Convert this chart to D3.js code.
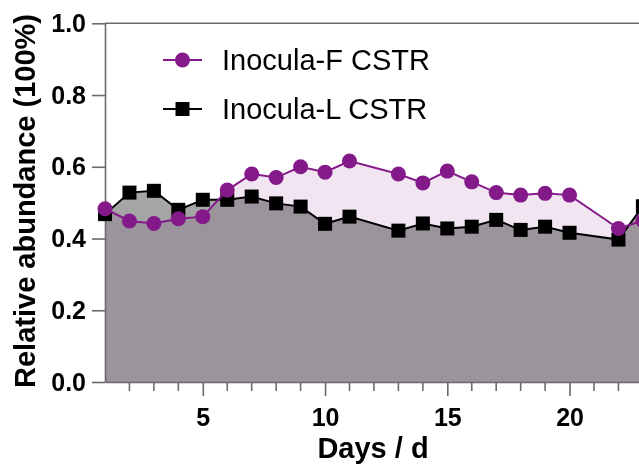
<!DOCTYPE html>
<html lang="en">
<head>
    <meta charset="UTF-8">
    <title>Relative abundance of inocula in CSTR</title>
    <script src="https://d3js.org/d3.v7.min.js"></script>
    <style>
        body { margin: 0; background: #fff; }
        svg { display: block; font-family: "Liberation Sans", Arial, Helvetica, sans-serif; }
    </style>
</head>
<body>
    <svg width="639" height="467" id="chart"></svg>
    <script>
        // Data
        const daysF = [1, 2, 3, 4, 5, 6, 7, 8, 9, 10, 11, 13, 14, 15, 16, 17, 18, 19, 20, 22, 23];
        const valuesF = [0.483, 0.449, 0.442, 0.455, 0.461, 0.535, 0.580, 0.570, 0.600, 0.585, 0.616,
                         0.580, 0.555, 0.588, 0.558, 0.528, 0.521, 0.526, 0.521, 0.428, 0.450];
        const daysL = [1, 2, 3, 4, 5, 6, 7, 8, 9, 10, 11, 13, 14, 15, 16, 17, 18, 19, 20, 22, 23];
        const valuesL = [0.468, 0.528, 0.533, 0.480, 0.508, 0.508, 0.517, 0.498, 0.489, 0.441, 0.461,
                         0.422, 0.442, 0.428, 0.433, 0.452, 0.424, 0.433, 0.416, 0.397, 0.490];
        const seriesNames = ["Inocula-F CSTR", "Inocula-L CSTR"];
        const yTicks = [0, 0.2, 0.4, 0.6, 0.8, 1.0];
        const xTicks = [5, 10, 15, 20];

        const purple = "#84198a";
        const axisGrey = "#6a6a6a";

        const svg = d3.select("#chart");

        const x = d3.scaleLinear().domain([1, 25]).range([105, 691.8]);
        const y = d3.scaleLinear().domain([0, 1]).range([382, 23.3]);

        const F = daysF.map((d, i) => ({ day: d, v: valuesF[i] }));
        const L = daysL.map((d, i) => ({ day: d, v: valuesL[i] }));

        const area = d3.area().x(d => x(d.day)).y0(y(0)).y1(d => y(d.v));
        const line = d3.line().x(d => x(d.day)).y(d => y(d.v));

        // shaded areas (pink under F, grey under L, multiplied where they overlap)
        svg.append("path").datum(F)
            .attr("d", area)
            .attr("fill", "#f1e5f1");
        svg.append("path").datum(L)
            .attr("d", area)
            .attr("fill", "#a5a5a5")
            .style("mix-blend-mode", "multiply");

        // axes
        const yAxis = svg.append("g")
            .attr("transform", `translate(${x(1)},0)`)
            .call(d3.axisLeft(y).tickValues(yTicks).tickFormat(d3.format(".1f"))
                .tickSize(13).tickSizeOuter(0).tickPadding(6));
        yAxis.selectAll("text")
            .attr("font-size", 25).attr("font-weight", "bold")
            .attr("font-family", "Liberation Sans, Arial, sans-serif")
            .attr("fill", "#000");

        const xAxis = svg.append("g")
            .attr("transform", `translate(0,${y(0)})`)
            .call(d3.axisBottom(x).tickValues(xTicks).tickFormat(d3.format("d"))
                .tickSize(14).tickSizeOuter(0).tickPadding(12));
        xAxis.selectAll("text")
            .attr("font-size", 25).attr("font-weight", "bold")
            .attr("font-family", "Liberation Sans, Arial, sans-serif")
            .attr("fill", "#000");

        // minor day ticks
        xAxis.selectAll("line.minor")
            .data(d3.range(2, 26).filter(d => d % 5 !== 0))
            .enter().append("line")
            .attr("class", "minor")
            .attr("x1", d => x(d)).attr("x2", d => x(d))
            .attr("y1", 0).attr("y2", 9);

        svg.selectAll(".domain, .tick line, line.minor")
            .attr("stroke", axisGrey)
            .attr("stroke-width", 1.6);

        // top frame line
        svg.append("line")
            .attr("x1", x(1)).attr("x2", x(25))
            .attr("y1", y(1)).attr("y2", y(1))
            .attr("stroke", axisGrey).attr("stroke-width", 1.6);

        // L series
        svg.append("path").datum(L)
            .attr("d", line)
            .attr("fill", "none").attr("stroke", "#000").attr("stroke-width", 2);
        svg.selectAll("rect.l-pt").data(L).enter().append("rect")
            .attr("class", "l-pt")
            .attr("x", d => x(d.day) - 7).attr("y", d => y(d.v) - 7)
            .attr("width", 14).attr("height", 14)
            .attr("fill", "#000");

        // F series
        svg.append("path").datum(F)
            .attr("d", line)
            .attr("fill", "none").attr("stroke", purple).attr("stroke-width", 2);
        svg.selectAll("circle.f-pt").data(F).enter().append("circle")
            .attr("class", "f-pt")
            .attr("cx", d => x(d.day)).attr("cy", d => y(d.v))
            .attr("r", 7.5)
            .attr("fill", purple);

        // legend
        const legend = svg.append("g");
        const rows = [
            { name: seriesNames[0], color: purple, shape: "circle", y: 60 },
            { name: seriesNames[1], color: "#000", shape: "square", y: 109 }
        ];
        rows.forEach(r => {
            legend.append("line")
                .attr("x1", 163).attr("x2", 202)
                .attr("y1", r.y).attr("y2", r.y)
                .attr("stroke", r.color).attr("stroke-width", 2);
            if (r.shape === "circle") {
                legend.append("circle").attr("cx", 182.5).attr("cy", r.y).attr("r", 7.5).attr("fill", r.color);
            } else {
                legend.append("rect").attr("x", 175.5).attr("y", r.y - 7).attr("width", 14).attr("height", 14).attr("fill", r.color);
            }
            legend.append("text")
                .attr("x", 222).attr("y", r.y + 10)
                .attr("font-size", 29)
                .attr("fill", "#000")
                .text(r.name);
        });

        // axis titles
        svg.append("text")
            .attr("transform", "translate(35,201) rotate(-90)")
            .attr("text-anchor", "middle")
            .attr("font-size", 29).attr("font-weight", "bold")
            .text("Relative abundance (100%)");

        svg.append("text")
            .attr("x", 373).attr("y", 458)
            .attr("text-anchor", "middle")
            .attr("font-size", 29).attr("font-weight", "bold")
            .text("Days / d");
    </script>
</body>
</html>
